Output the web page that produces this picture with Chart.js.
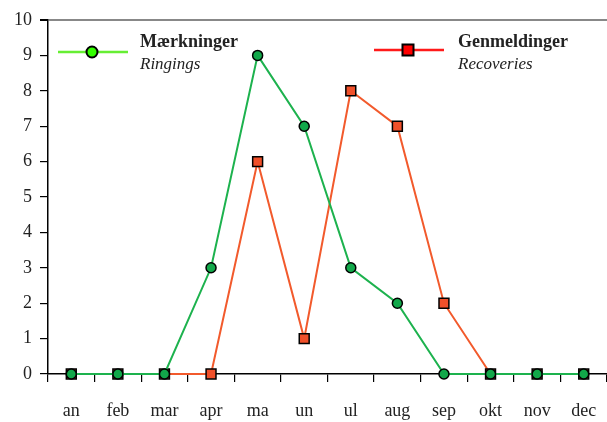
<!DOCTYPE html>
<html>
<head>
<meta charset="utf-8">
<script src="https://cdn.jsdelivr.net/npm/chart.js@4"></script>
<style>
  html, body { margin: 0; padding: 0; background: #fff; }
  #wrap { width: 607px; height: 422px; }
</style>
</head>
<body>
<div id="wrap"><canvas id="c" width="607" height="422"></canvas></div>
<script>
// Month labels and the two series.
const months = ['an', 'feb', 'mar', 'apr', 'ma', 'un', 'ul', 'aug', 'sep', 'okt', 'nov', 'dec'];
const ringings = [0, 0, 0, 3, 9, 7, 3, 2, 0, 0, 0, 0];
const recoveries = [0, 0, 0, 0, 6, 1, 8, 7, 2, 0, 0, 0];
const yTicks = [0, 1, 2, 3, 4, 5, 6, 7, 8, 9, 10];

const FONT = '"Liberation Serif", "DejaVu Serif", serif';
const TEXT = '#222';

// Two-line legend (bold Danish name, italic English under it) drawn in
// the plot area — the stock legend can't do the two-line layout.
const legendItems = [
  { x: 58, y: 52, line: '#66ee33', fill: '#33ff00', style: 'circle', title: 'Mærkninger', sub: 'Ringings', tx: 140, ty: 47 },
  { x: 374, y: 50, line: '#ff1a1a', fill: '#ff0000', style: 'rect', title: 'Genmeldinger', sub: 'Recoveries', tx: 458, ty: 47 },
];

const twoLineLegend = {
  id: 'twoLineLegend',
  afterDatasetsDraw(chart) {
    const ctx = chart.ctx;
    ctx.save();
    for (const it of legendItems) {
      ctx.strokeStyle = it.line;
      ctx.lineWidth = 2.5;
      ctx.beginPath();
      ctx.moveTo(it.x, it.y);
      ctx.lineTo(it.x + 70, it.y);
      ctx.stroke();
      ctx.fillStyle = it.fill;
      ctx.strokeStyle = '#000';
      ctx.lineWidth = 2;
      const cx = it.x + 34;
      ctx.beginPath();
      if (it.style === 'circle') ctx.arc(cx, it.y, 5.5, 0, Math.PI * 2);
      else ctx.rect(cx - 5.5, it.y - 5.5, 11, 11);
      ctx.fill();
      ctx.stroke();
      ctx.fillStyle = TEXT;
      ctx.textBaseline = 'alphabetic';
      ctx.font = 'bold 18px ' + FONT;
      ctx.fillText(it.title, it.tx, it.ty);
      ctx.font = 'italic 17px ' + FONT;
      ctx.fillText(it.sub, it.tx, it.ty + 22);
    }
    ctx.restore();
  },
};

new Chart(document.getElementById('c'), {
  type: 'line',
  data: {
    labels: months,
    datasets: [
      {
        label: 'Mærkninger',
        data: ringings,
        borderColor: '#1db24e',
        borderWidth: 2,
        pointStyle: 'circle',
        pointRadius: 5,
        pointBackgroundColor: '#12a84a',
        pointBorderColor: '#000',
        pointBorderWidth: 1.5,
        tension: 0,
        clip: false,
        order: 0,
      },
      {
        label: 'Genmeldinger',
        data: recoveries,
        borderColor: '#f25a2c',
        borderWidth: 2,
        pointStyle: 'rect',
        pointRadius: 7,
        pointBackgroundColor: '#f0502a',
        pointBorderColor: '#000',
        pointBorderWidth: 1.5,
        tension: 0,
        clip: false,
        order: 1,
      },
    ],
  },
  options: {
    responsive: false,
    animation: false,
    layout: { autoPadding: false, padding: { top: 20, right: 0, bottom: 0, left: 0 } },
    plugins: { legend: { display: false }, tooltip: { enabled: false } },
    scales: {
      x: {
        offset: true,
        afterFit: s => { s.height = 48; s.paddingLeft = 0; s.paddingRight = 0; },
        grid: { offset: true, drawOnChartArea: false, tickLength: 8, color: '#000', lineWidth: 1.2 },
        border: { color: '#000', width: 1.5 },
        ticks: { color: TEXT, padding: 18, font: { family: FONT, size: 18 }, maxRotation: 0, autoSkip: false },
      },
      y: {
        min: 0,
        max: 10,
        afterFit: s => { s.width = 48; s.paddingTop = 0; s.paddingBottom = 0; },
        afterBuildTicks: s => { s.ticks = yTicks.map(v => ({ value: v })); },
        grid: {
          tickLength: 8,
          color: c => (c.tick && c.tick.value === 10 ? '#888' : 'rgba(0,0,0,0)'),
          tickColor: '#000',
          lineWidth: c => (c.tick && c.tick.value === 10 ? 2 : 1.2),
        },
        border: { color: '#000', width: 1.5 },
        ticks: { color: TEXT, padding: 8, font: { family: FONT, size: 18 } },
      },
    },
  },
  plugins: [twoLineLegend],
});
</script>
</body>
</html>
